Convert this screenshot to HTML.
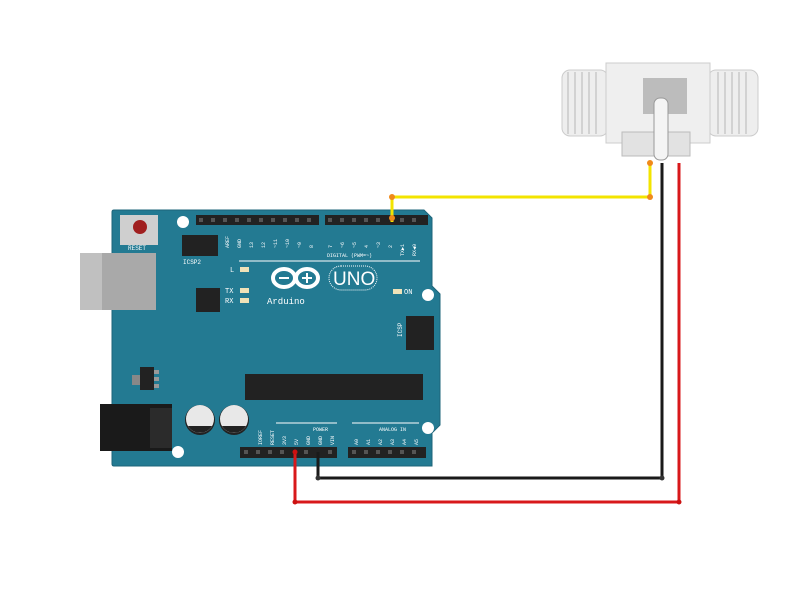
<!DOCTYPE html>
<html><head><style>body{margin:0;background:#fff}svg{display:block}</style></head><body>
<svg width="800" height="600" xmlns="http://www.w3.org/2000/svg" font-family="Liberation Mono, monospace">
<rect width="800" height="600" fill="#fff"/>
<path d="M114,210 L424,210 L432,218 L432,286 L440,294 L440,425 L432,433 L432,466 L114,466 Q112,466 112,464 L112,212 Q112,210 114,210Z" fill="#237a92" stroke="#1c6479" stroke-width="1"/>
<rect x="80" y="253" width="76" height="57" fill="#a9a9a9"/>
<rect x="80" y="253" width="22" height="57" fill="#c0c0c0"/>
<rect x="100" y="404" width="72" height="47" fill="#1a1a1a"/>
<rect x="150" y="408" width="22" height="40" fill="#2b2b2b"/>
<rect x="120" y="215" width="38" height="30" fill="#cfcfcf"/>
<circle cx="140" cy="227" r="7" fill="#a01f1f"/>
<text x="128" y="250" font-size="6" fill="#fff">RESET</text>
<circle cx="183" cy="222" r="6" fill="#fff"/>
<circle cx="428" cy="295" r="6" fill="#fff"/>
<circle cx="428" cy="428" r="6" fill="#fff"/>
<circle cx="178" cy="452" r="6" fill="#fff"/>
<rect x="196" y="215" width="123" height="10" fill="#222"/>
<rect x="325" y="215" width="103" height="10" fill="#222"/>
<rect x="240" y="447" width="97" height="11" fill="#222"/>
<rect x="348" y="447" width="78" height="11" fill="#222"/>
<g fill="#555">
<rect x="199" y="218" width="4" height="4"/><rect x="211" y="218" width="4" height="4"/><rect x="223" y="218" width="4" height="4"/><rect x="235" y="218" width="4" height="4"/><rect x="247" y="218" width="4" height="4"/><rect x="259" y="218" width="4" height="4"/><rect x="271" y="218" width="4" height="4"/><rect x="283" y="218" width="4" height="4"/><rect x="295" y="218" width="4" height="4"/><rect x="307" y="218" width="4" height="4"/>
<rect x="328" y="218" width="4" height="4"/><rect x="340" y="218" width="4" height="4"/><rect x="352" y="218" width="4" height="4"/><rect x="364" y="218" width="4" height="4"/><rect x="376" y="218" width="4" height="4"/><rect x="400" y="218" width="4" height="4"/><rect x="412" y="218" width="4" height="4"/>
<rect x="244" y="450" width="4" height="4"/><rect x="256" y="450" width="4" height="4"/><rect x="268" y="450" width="4" height="4"/><rect x="280" y="450" width="4" height="4"/><rect x="304" y="450" width="4" height="4"/><rect x="328" y="450" width="4" height="4"/>
<rect x="352" y="450" width="4" height="4"/><rect x="364" y="450" width="4" height="4"/><rect x="376" y="450" width="4" height="4"/><rect x="388" y="450" width="4" height="4"/><rect x="400" y="450" width="4" height="4"/><rect x="412" y="450" width="4" height="4"/>
</g>
<g font-size="5" fill="#fff">
<text transform="translate(229,248) rotate(-90)">AREF</text><text transform="translate(241,248) rotate(-90)">GND</text><text transform="translate(253,248) rotate(-90)">13</text><text transform="translate(265,248) rotate(-90)">12</text><text transform="translate(277,248) rotate(-90)">~11</text><text transform="translate(289,248) rotate(-90)">~10</text><text transform="translate(301,248) rotate(-90)">~9</text><text transform="translate(313,248) rotate(-90)">8</text>
<text transform="translate(332,248) rotate(-90)">7</text><text transform="translate(344,248) rotate(-90)">~6</text><text transform="translate(356,248) rotate(-90)">~5</text><text transform="translate(368,248) rotate(-90)">4</text><text transform="translate(380,248) rotate(-90)">~3</text><text transform="translate(392,248) rotate(-90)">2</text><text transform="translate(404,256) rotate(-90)">TX▶1</text><text transform="translate(416,256) rotate(-90)">RX◀0</text>
<text transform="translate(262,445) rotate(-90)">IOREF</text><text transform="translate(274,445) rotate(-90)">RESET</text><text transform="translate(286,445) rotate(-90)">3V3</text><text transform="translate(298,445) rotate(-90)">5V</text><text transform="translate(310,445) rotate(-90)">GND</text><text transform="translate(322,445) rotate(-90)">GND</text><text transform="translate(334,445) rotate(-90)">VIN</text>
<text transform="translate(358,445) rotate(-90)">A0</text><text transform="translate(370,445) rotate(-90)">A1</text><text transform="translate(382,445) rotate(-90)">A2</text><text transform="translate(394,445) rotate(-90)">A3</text><text transform="translate(406,445) rotate(-90)">A4</text><text transform="translate(418,445) rotate(-90)">A5</text>
</g>
<rect x="182" y="235" width="36" height="21" fill="#222"/>
<text x="183" y="264" font-size="6" fill="#fff">ICSP2</text>
<rect x="406" y="316" width="28" height="34" fill="#222"/>
<text x="402" y="337" font-size="6" fill="#fff" transform="rotate(-90 402 337)">ICSP</text>
<rect x="196" y="288" width="24" height="24" fill="#222"/>
<rect x="245" y="374" width="178" height="26" fill="#222"/>
<rect x="140" y="367" width="14" height="23" fill="#222"/>
<rect x="132" y="375" width="8" height="10" fill="#888"/>
<rect x="154" y="370" width="5" height="4" fill="#999"/><rect x="154" y="377" width="5" height="4" fill="#999"/><rect x="154" y="384" width="5" height="4" fill="#999"/>
<circle cx="200" cy="420" r="15" fill="#222"/><circle cx="200" cy="419" r="14" fill="#e8e8e8"/><path d="M188,426 a14,14 0 0 0 24,0z" fill="#222"/>
<circle cx="234" cy="420" r="15" fill="#222"/><circle cx="234" cy="419" r="14" fill="#e8e8e8"/><path d="M222,426 a14,14 0 0 0 24,0z" fill="#222"/>
<rect x="240" y="267" width="9" height="5" fill="#efe2b8"/><text x="230" y="272" font-size="7" fill="#fff">L</text>
<rect x="240" y="288" width="9" height="5" fill="#efe2b8"/><text x="225" y="293" font-size="7" fill="#fff">TX</text>
<rect x="240" y="298" width="9" height="5" fill="#efe2b8"/><text x="225" y="303" font-size="7" fill="#fff">RX</text>
<rect x="393" y="289" width="9" height="5" fill="#efe2b8"/><text x="404" y="294" font-size="7" fill="#fff">ON</text>
<line x1="239" y1="261" x2="420" y2="261" stroke="#fff" stroke-width="1"/>
<text x="327" y="257" font-size="5" fill="#fff">DIGITAL (PWM=~)</text>
<line x1="276" y1="423" x2="337" y2="423" stroke="#fff"/><text x="313" y="431" font-size="5" fill="#fff">POWER</text>
<line x1="352" y1="423" x2="419" y2="423" stroke="#fff"/><text x="379" y="431" font-size="5" fill="#fff">ANALOG IN</text>
<g fill="none" stroke="#fff" stroke-width="4"><ellipse cx="284" cy="278" rx="11" ry="9"/><ellipse cx="307" cy="278" rx="11" ry="9"/></g>
<rect x="279" y="277" width="10" height="2" fill="#fff"/><rect x="302" y="277" width="10" height="2" fill="#fff"/><rect x="306" y="273" width="2" height="10" fill="#fff"/>
<rect x="329" y="266" width="48" height="24" rx="12" fill="none" stroke="#fff" stroke-width="1" stroke-dasharray="1,1"/>
<text x="333" y="285" font-size="19" font-family="Liberation Sans, sans-serif" fill="#fff">UNO</text>
<text x="267" y="304" font-size="9" fill="#fff">Arduino</text>
<!-- sensor -->
<rect x="562" y="70" width="46" height="66" rx="8" fill="#eeeeee" stroke="#ccc"/>
<rect x="708" y="70" width="50" height="66" rx="8" fill="#eeeeee" stroke="#ccc"/>
<g stroke="#c8c8c8" stroke-width="1.5">
<line x1="568" y1="72" x2="568" y2="134"/><line x1="575" y1="72" x2="575" y2="134"/><line x1="582" y1="72" x2="582" y2="134"/><line x1="589" y1="72" x2="589" y2="134"/><line x1="596" y1="72" x2="596" y2="134"/>
<line x1="718" y1="72" x2="718" y2="134"/><line x1="725" y1="72" x2="725" y2="134"/><line x1="732" y1="72" x2="732" y2="134"/><line x1="739" y1="72" x2="739" y2="134"/><line x1="746" y1="72" x2="746" y2="134"/>
</g>
<rect x="606" y="63" width="104" height="80" fill="#efefef" stroke="#ccc"/>
<rect x="643" y="78" width="44" height="36" fill="#999" opacity="0.6"/>
<rect x="622" y="132" width="68" height="24" fill="#e2e2e2" stroke="#bbb"/>
<rect x="654" y="98" width="14" height="62" rx="6" fill="#f4f4f4" stroke="#999"/>
<g fill="none" stroke-width="3" stroke-linejoin="miter">
<polyline points="392,222 392,197 650,197 650,163" stroke="#f3e400"/>
<polyline points="318,452 318,478 662,478 662,163" stroke="#1a1a1a"/>
<polyline points="295,452 295,502 679,502 679,163" stroke="#d8181b"/>
</g>
<g fill="#f08a1a"><circle cx="392" cy="197" r="3"/><circle cx="650" cy="197" r="3"/><circle cx="392" cy="218" r="3"/><circle cx="650" cy="163" r="3"/></g>
<g fill="#c11"><circle cx="295" cy="452" r="2.5"/><circle cx="295" cy="502" r="2.5"/><circle cx="679" cy="502" r="2.5"/></g>
<g fill="#333"><circle cx="318" cy="478" r="2.5"/><circle cx="662" cy="478" r="2.5"/></g>
</svg>
</body></html>
